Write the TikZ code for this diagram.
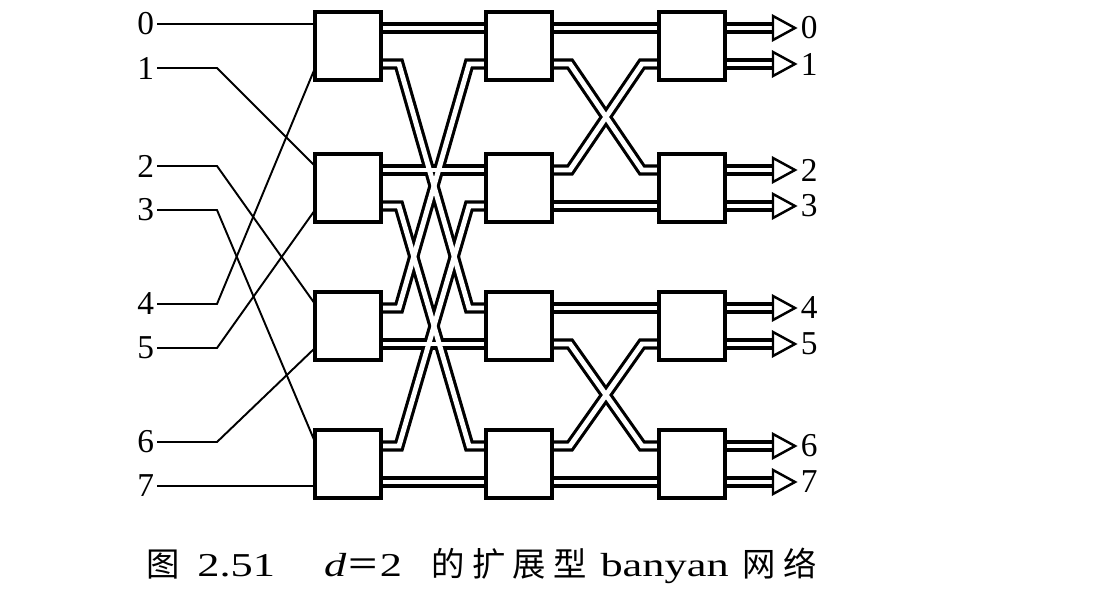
\documentclass[tikz,border=0pt]{standalone}
\usepackage{fontspec}
\setmainfont{Liberation Serif}
\newfontfamily\cjk{Noto Sans CJK SC}
\newfontfamily\capfont{Liberation Serif}[FakeStretch=1.33]
\usetikzlibrary{calc}
\pgfdeclarelayer{bg}
\pgfsetlayers{bg,main}
\newcommand\wirepaths[1]{%
  \foreach \a/\b in {b11-o1/b12-i1,b21-o1/b22-i1,b31-o2/b32-i2,b41-o2/b42-i2,
                     b12-o1/b13-i1,b22-o2/b23-i2,b32-o1/b33-i1,b42-o2/b43-i2}
    \draw[#1] (\a) -- (\b);
  \foreach \a/\b in {b11-o2/b32-i1,b21-o2/b42-i1,b31-o1/b12-i2,b41-o1/b22-i2,
                     b12-o2/b23-i1,b22-o1/b13-i2,b32-o2/b43-i1,b42-o1/b33-i2}
    \draw[#1] (\a) -- ++(18,0) -- ($(\b)+(-17,0)$) -- (\b);
  \foreach \a/\k in {b13-o1/0,b13-o2/1,b23-o1/2,b23-o2/3,b33-o1/4,b33-o2/5,b43-o1/6,b43-o2/7}
    \draw[#1] (\a) -- ($(out\k.west)+(-25,0)$);
}
\newcommand\cs{\hspace{4pt}}
\begin{document}
\begin{tikzpicture}[x=0.02cm,y=-0.02cm,
  box/.style={draw,fill=white,line width=2.2pt,minimum width=1.32cm,minimum height=1.36cm,inner sep=0pt,outer sep=0pt},
  wire/.style={line width=1.1pt},
  dout/.style={line width=6.4pt,black},
  din/.style={line width=2.8pt,white},
  tri/.style={draw,fill=white,line width=1.4pt,line join=miter},
  lab/.style={font=\fontsize{19}{22}\selectfont,inner sep=1.5pt}]
\useasboundingbox (0,0) rectangle (1100,604);
\begin{pgfonlayer}{bg}
  \fill[white] (0,0) rectangle (1100,604);
\end{pgfonlayer}
% boxes
\foreach \c/\x in {1/348,2/519,3/692}
  \foreach \r/\y in {1/46,2/188,3/326,4/464}
    \node[box] (b\r\c) at (\x,\y) {};
% ports
\foreach \c in {1,2,3}
  \foreach \r in {1,2,3,4} {
    \coordinate (b\r\c-i1) at ($(b\r\c.west)+(0,-18)$);
    \coordinate (b\r\c-i2) at ($(b\r\c.west)+(0,18)$);
    \coordinate (b\r\c-o1) at ($(b\r\c.east)+(0,-18)$);
    \coordinate (b\r\c-o2) at ($(b\r\c.east)+(0,18)$);
    \coordinate (b\r\c-s1) at ($(b\r\c.west)+(0,-22)$);
    \coordinate (b\r\c-s2) at ($(b\r\c.west)+(0,22)$);
  }
% labels
\foreach \k/\y in {0/24,1/68,2/166,3/210,4/304,5/348,6/442,7/486}
  \node[lab,anchor=east] (in\k) at (157,\y) {\k};
\foreach \k/\y in {0/28,1/64,2/170,3/206,4/308,5/344,6/446,7/482}
  \node[lab,anchor=west] (out\k) at (798,\y) {\k};
% wires
\begin{pgfonlayer}{bg}
  \draw[wire] (in0.east) -- (b11-s1);
  \draw[wire] (in7.east) -- (b41-s2);
  \foreach \k/\p in {1/b21-s1,2/b31-s1,3/b41-s1,4/b11-s2,5/b21-s2,6/b31-s2}
    \draw[wire] (in\k.east) -- ++(60,0) -- (\p);
  \wirepaths{dout}
  \wirepaths{din}
\end{pgfonlayer}
% output arrow heads
\foreach \k in {0,...,7}
  \draw[tri] ($(out\k.west)+(-25,-12)$) -- ($(out\k.west)+(-3,0)$) -- ($(out\k.west)+(-25,12)$) -- cycle;
% caption
\node[font=\fontsize{19}{22}\selectfont,anchor=west,inner sep=0pt] (cap) at (146,566)
  {{\cjk 图}\hspace{10pt}{\capfont 2.51}\hspace{28pt}{\capfont\itshape d}{\cjk ＝}{\capfont 2}\hspace{17pt}{\cjk 的\cs 扩\cs 展\cs 型}\hspace{8pt}{\capfont banyan}\hspace{8pt}{\cjk 网\cs 络}};
\end{tikzpicture}
\end{document}
